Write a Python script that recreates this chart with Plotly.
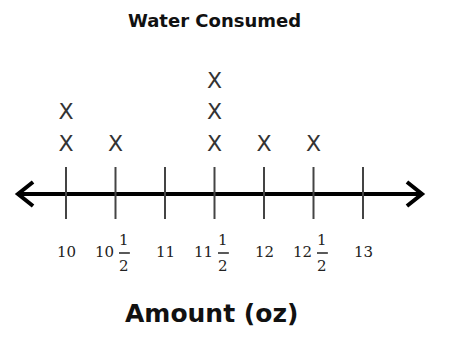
import plotly.graph_objects as go

# ---- data ----
amounts = [10, 10, 10.5, 11.5, 11.5, 11.5, 12, 12.5]   # one entry per X
tick_values = [10, 10.5, 11, 11.5, 12, 12.5, 13]
tick_whole = ["10", "10", "11", "11", "12", "12", "13"]
tick_is_half = [False, True, False, True, False, True, False]
title_text = "Water Consumed"
axis_title = "Amount (oz)"

# ---- stack X marks ----
counts = {}
xs, ys = [], []
BASE = 49.0    # gap between axis line and first X (y units = px)
STEP = 31.5
for a in amounts:
    counts[a] = counts.get(a, 0) + 1
    xs.append(a)
    ys.append(BASE + STEP * (counts[a] - 1))

fig = go.Figure()
fig.add_trace(go.Scatter(
    x=xs, y=ys, mode="text", text=["X"] * len(xs),
    textfont=dict(family="DejaVu Sans", size=22, color="#333333"),
    hoverinfo="skip", showlegend=False))

shapes = []
LW = 4
x_left, x_right = 9.505, 13.606
# main line
shapes.append(dict(type="line", x0=x_left + 0.01, x1=x_right - 0.01, y0=0, y1=0,
                   line=dict(color="black", width=LW)))
# arrow heads
shapes.append(dict(type="path",
                   path=f"M {x_left+0.162},12 L {x_left+0.01},0 L {x_left+0.162},-12",
                   line=dict(color="black", width=LW)))
shapes.append(dict(type="path",
                   path=f"M {x_right-0.162},12 L {x_right-0.01},0 L {x_right-0.162},-12",
                   line=dict(color="black", width=LW)))

annotations = []
lab_font = dict(family="DejaVu Serif", size=15, color="#222222")
for v, w, h in zip(tick_values, tick_whole, tick_is_half):
    shapes.append(dict(type="line", x0=v, x1=v, y0=27, y1=-25,
                       line=dict(color="#444444", width=2)))
    if not h:
        annotations.append(dict(x=v, y=-58, text=w, showarrow=False, font=lab_font,
                                xanchor="center", yanchor="middle"))
    else:
        annotations.append(dict(x=v - 0.112, y=-58, text=w, showarrow=False, font=lab_font,
                                xanchor="center", yanchor="middle"))
        fx = v + 0.09
        annotations.append(dict(x=fx, y=-46, text="1", showarrow=False, font=lab_font,
                                xanchor="center", yanchor="middle"))
        annotations.append(dict(x=fx, y=-72, text="2", showarrow=False, font=lab_font,
                                xanchor="center", yanchor="middle"))
        shapes.append(dict(type="line", x0=fx - 0.055, x1=fx + 0.055, y0=-59, y1=-59,
                           line=dict(color="#222222", width=1.5)))

annotations.append(dict(x=0.466, xref="paper", y=174, text=f"<b>{title_text}</b>",
                        showarrow=False, font=dict(family="DejaVu Sans", size=18, color="#111111"),
                        xanchor="center", yanchor="middle"))
annotations.append(dict(x=0.46, xref="paper", y=-119, text=f"<b>{axis_title}</b>",
                        showarrow=False, font=dict(family="DejaVu Sans", size=25, color="#111111"),
                        xanchor="center", yanchor="middle"))

fig.update_layout(
    width=460, height=356,
    margin=dict(l=0, r=0, t=0, b=0),
    paper_bgcolor="white", plot_bgcolor="white",
    xaxis=dict(range=[9.3333, 13.9798], visible=False, fixedrange=True),
    yaxis=dict(range=[-162, 194], visible=False, fixedrange=True),
    shapes=shapes, annotations=annotations, showlegend=False,
)
fig.write_html("out.html")
